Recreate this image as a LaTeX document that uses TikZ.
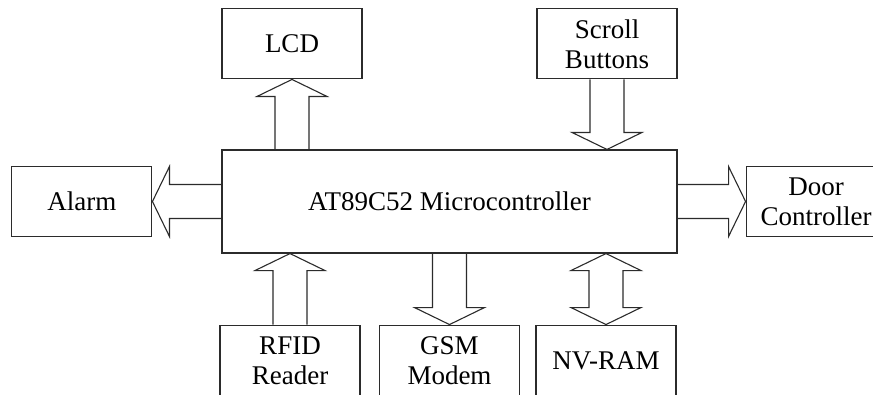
\documentclass[tikz,border=0pt]{standalone}
\usepackage{fontspec}
\setmainfont{Liberation Serif}
\usetikzlibrary{calc,positioning}
\definecolor{Ink}{HTML}{2B2B2B}
\tikzset{
  unit/.style={
    draw=Ink, line width=1.1pt, fill=white,
    minimum width=140pt, minimum height=70pt, align=center,
    font=\fontsize{27}{30}\selectfont
  },
  core/.style={
    unit, minimum width=455pt, minimum height=103pt
  },
  bus/.style={draw=Ink, line width=1.1pt, line join=miter}
}
% hollow block arrow from #1 to #2
\newcommand{\busarrow}[2]{%
  \coordinate (ba-a) at (#1);
  \coordinate (ba-b) at (#2);
  \coordinate (ba-h) at ($(ba-b)!17pt!(ba-a)$);
  \draw[bus] ($(ba-a)!17pt!90:(ba-b)$) -- ($(ba-h)!17pt!90:(ba-b)$)
    -- ($(ba-h)!35pt!90:(ba-b)$) -- (ba-b) -- ($(ba-h)!35pt!-90:(ba-b)$)
    -- ($(ba-h)!17pt!-90:(ba-b)$) -- ($(ba-a)!17pt!-90:(ba-b)$);
}
% hollow block arrow with heads at both ends
\newcommand{\busarrowboth}[2]{%
  \coordinate (ba-a) at (#1);
  \coordinate (ba-b) at (#2);
  \coordinate (ba-h) at ($(ba-b)!17pt!(ba-a)$);
  \coordinate (ba-g) at ($(ba-a)!17pt!(ba-b)$);
  \draw[bus] (ba-a) -- ($(ba-g)!35pt!-90:(ba-a)$) -- ($(ba-g)!17pt!-90:(ba-a)$)
    -- ($(ba-h)!17pt!90:(ba-b)$) -- ($(ba-h)!35pt!90:(ba-b)$) -- (ba-b)
    -- ($(ba-h)!35pt!-90:(ba-b)$) -- ($(ba-h)!17pt!-90:(ba-b)$)
    -- ($(ba-g)!17pt!90:(ba-a)$) -- ($(ba-g)!35pt!90:(ba-a)$) -- cycle;
}

\begin{document}
\begin{tikzpicture}
    \useasboundingbox (0,0) rectangle (873pt,-394pt);
    \node[core] (mcu) at (449.5pt,-201.5pt) {AT89C52 Microcontroller};
    \node[unit,above=70pt of mcu.north west,anchor=south west] (lcd) {LCD};
    \node[unit,above=70pt of mcu.north east,anchor=south east] (scroll) {Scroll\\Buttons};
    \node[unit,left=69pt of mcu.west] (alarm) {Alarm};
    \node[unit,right=68pt of mcu.east] (door) {Door\\Controller};
    \node[unit,minimum height=72pt,below=71pt of mcu.south west,anchor=north west,xshift=-2pt] (rfid) {RFID\\Reader};
    \node[unit,minimum height=72pt,below=71pt of mcu.south] (gsm) {GSM\\Modem};
    \node[unit,minimum height=72pt,below=71pt of mcu.south east,anchor=north east,xshift=-1pt] (nvram) {NV-RAM};
    \busarrow{mcu.north -| lcd}{lcd.south}
    \busarrow{scroll.south}{mcu.north -| scroll}
    \busarrow{mcu.west |- alarm}{alarm.east}
    \busarrow{mcu.east |- door}{door.west}
    \busarrow{rfid.north}{mcu.south -| rfid}
    \busarrow{mcu.south -| gsm}{gsm.north}
    \busarrowboth{mcu.south -| nvram}{nvram.north}
  \end{tikzpicture}
\end{document}
